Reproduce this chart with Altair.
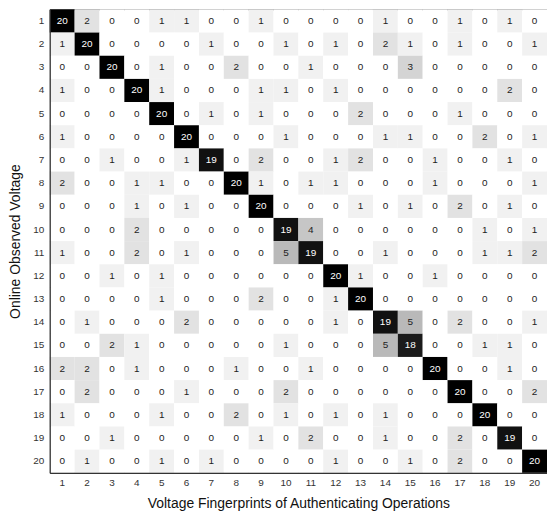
import altair as alt
import pandas as pd

labels = list(range(1, 21))

r01 = [20, 2, 0, 0, 1, 1, 0, 0, 1, 0, 0, 0, 0, 1, 0, 0, 1, 0, 1, 0]
r02 = [1, 20, 0, 0, 0, 0, 1, 0, 0, 1, 0, 1, 0, 2, 1, 0, 1, 0, 0, 1]
r03 = [0, 0, 20, 0, 1, 0, 0, 2, 0, 0, 1, 0, 0, 0, 3, 0, 0, 0, 0, 0]
r04 = [1, 0, 0, 20, 1, 0, 0, 0, 1, 1, 0, 1, 0, 0, 0, 0, 0, 0, 2, 0]
r05 = [0, 0, 0, 0, 20, 0, 1, 0, 1, 0, 0, 0, 2, 0, 0, 0, 1, 0, 0, 0]
r06 = [1, 0, 0, 0, 0, 20, 0, 0, 0, 1, 0, 0, 0, 1, 1, 0, 0, 2, 0, 1]
r07 = [0, 0, 1, 0, 0, 1, 19, 0, 2, 0, 0, 1, 2, 0, 0, 1, 0, 0, 1, 0]
r08 = [2, 0, 0, 1, 1, 0, 0, 20, 1, 0, 1, 1, 0, 0, 0, 1, 0, 0, 0, 1]
r09 = [0, 0, 0, 1, 0, 1, 0, 0, 20, 0, 0, 0, 1, 0, 1, 0, 2, 0, 1, 0]
r10 = [0, 0, 0, 2, 0, 0, 0, 0, 0, 19, 4, 0, 0, 0, 0, 0, 0, 1, 0, 1]
r11 = [1, 0, 0, 2, 0, 1, 0, 0, 0, 5, 19, 0, 0, 1, 0, 0, 0, 1, 1, 2]
r12 = [0, 0, 1, 0, 1, 0, 0, 0, 0, 0, 0, 20, 1, 0, 0, 1, 0, 0, 0, 0]
r13 = [0, 0, 0, 0, 1, 0, 0, 0, 2, 0, 0, 1, 20, 0, 0, 0, 0, 0, 0, 0]
r14 = [0, 1, 0, 0, 0, 2, 0, 0, 0, 0, 0, 1, 0, 19, 5, 0, 2, 0, 0, 1]
r15 = [0, 0, 2, 1, 0, 0, 0, 0, 0, 1, 0, 0, 0, 5, 18, 0, 0, 1, 1, 0]
r16 = [2, 2, 0, 1, 0, 0, 0, 1, 0, 0, 1, 0, 0, 0, 0, 20, 0, 0, 1, 0]
r17 = [0, 2, 0, 0, 0, 1, 0, 0, 0, 2, 0, 0, 0, 0, 0, 0, 20, 0, 0, 2]
r18 = [1, 0, 0, 0, 1, 0, 0, 2, 0, 1, 0, 1, 0, 1, 0, 0, 0, 20, 0, 0]
r19 = [0, 0, 1, 0, 0, 0, 0, 0, 1, 0, 2, 0, 0, 1, 0, 0, 2, 0, 19, 0]
r20 = [0, 1, 0, 0, 1, 0, 1, 0, 0, 0, 0, 1, 0, 0, 1, 0, 2, 0, 0, 20]

rows = [r01, r02, r03, r04, r05, r06, r07, r08, r09, r10,
        r11, r12, r13, r14, r15, r16, r17, r18, r19, r20]

records = []
for i, row in enumerate(rows):
    for j, v in enumerate(row):
        records.append({"observed": labels[i], "fingerprint": labels[j], "count": v})
df = pd.DataFrame(records)

FONT = "Liberation Sans"

base = alt.Chart(df).encode(
    x=alt.X("fingerprint:O", sort=labels,
            axis=alt.Axis(title="Voltage Fingerprints of Authenticating Operations",
                          labelAngle=0, ticks=False, labelPadding=5,
                          titlePadding=9, domainColor="#333")),
    y=alt.Y("observed:O", sort=labels,
            axis=alt.Axis(title="Online Observed Voltage", ticks=False,
                          labelPadding=6, titlePadding=10, domainColor="#333")),
)

rect = base.mark_rect().encode(
    color=alt.Color("count:Q",
                    scale=alt.Scale(domain=[0, 20], range=["#ffffff", "#000000"]),
                    legend=None)
)

text = base.mark_text(fontSize=10, font=FONT).encode(
    text="count:Q",
    color=alt.condition(alt.datum["count"] >= 10, alt.value("#ffffff"), alt.value("#222222")),
)

chart = (rect + text).properties(
    width=500, height=466,
    padding={"left": 0, "top": 0, "right": 0, "bottom": 0},
).configure_view(
    stroke="#444444", strokeWidth=1
).configure_axis(
    labelFont=FONT, titleFont=FONT, labelFontSize=10, titleFontSize=14,
    titleFontWeight="normal", labelColor="#333", titleColor="#111",
    domainWidth=1.2
)

chart.save("out.html", embed_options={"renderer": "svg", "actions": False})
